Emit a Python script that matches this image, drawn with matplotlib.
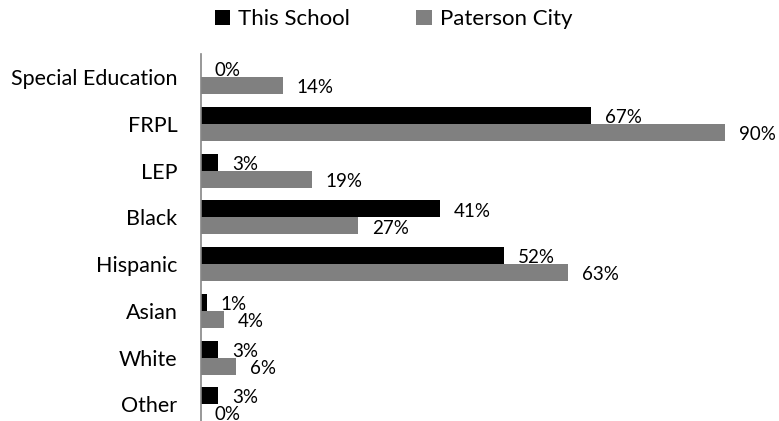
import numpy as np
import matplotlib.pyplot as plt

categories = ["Special Education", "FRPL", "LEP", "Black", "Hispanic", "Asian", "White", "Other"]
this_school = [0, 67, 3, 41, 52, 1, 3, 3]
paterson_city = [14, 90, 19, 27, 63, 4, 6, 0]
series_names = ["This School", "Paterson City"]

plt.rcParams['font.family'] = ['Lato', 'DejaVu Sans']

fig = plt.figure(figsize=(7.79, 4.21), dpi=100)
ax = fig.add_axes([201 / 779, -0.0157, (725 - 201) / 779, 0.8874])

y = np.arange(len(categories))
h = 0.364
b1 = ax.barh(y - h / 2, this_school, height=h, color="#000000", label=series_names[0])
b2 = ax.barh(y + h / 2, paterson_city, height=h, color="#808080", label=series_names[1])

for bars, vals in [(b1, this_school), (b2, paterson_city)]:
    for bar, v in zip(bars, vals):
        ax.annotate(f"{v}%", (bar.get_width(), bar.get_y() + bar.get_height() / 2),
                    xytext=(10, -1.5), textcoords="offset points",
                    ha="left", va="center", fontsize=13.5, color="#000000")

ax.set_xlim(0, 90)
ax.set_ylim(len(categories) - 0.5, -0.5)
ax.set_yticks(y)
ax.set_yticklabels(categories, fontsize=15.5)
ax.tick_params(axis="y", length=0, pad=17)
ax.set_xticks([])
for s in ["top", "right", "bottom"]:
    ax.spines[s].set_visible(False)
ax.spines["left"].set_color("#868686")
ax.spines["left"].set_linewidth(1.2)

fig.legend(handles=[b1, b2], labels=series_names, loc="upper center",
           bbox_to_anchor=(0.505, 1.025), ncol=2, frameon=False, fontsize=16,
           handlelength=0.7, handleheight=0.7, handletextpad=0.35, columnspacing=3.0)

fig.savefig("out.png", dpi=100)
